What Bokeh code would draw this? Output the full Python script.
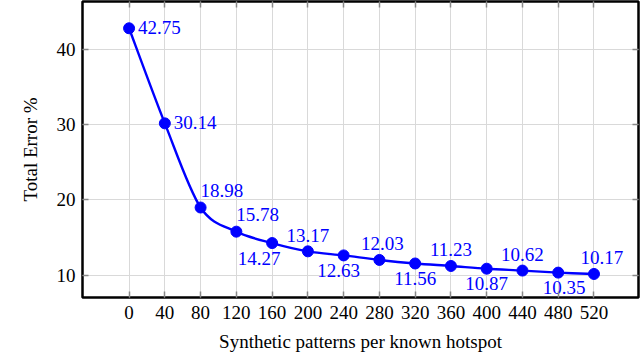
from bokeh.plotting import figure
from bokeh.models import ColumnDataSource, LinearAxis, FixedTicker, CustomJSTickFormatter, Range1d
from bokeh.core.properties import value
from bokeh.embed import file_html
from bokeh.resources import INLINE

# ---- data ----
patterns = [0, 40, 80, 120, 160, 200, 240, 280, 320, 360, 400, 440, 480, 520]
total_error = [42.75, 30.14, 18.98, 15.78, 14.27, 13.17, 12.63, 12.03, 11.56, 11.23, 10.87, 10.62, 10.35, 10.17]
x_ticks = [0, 40, 80, 120, 160, 200, 240, 280, 320, 360, 400, 440, 480, 520]
y_ticks = [10, 20, 30, 40]

# label placement style per point (position only, no data)
label_pos = ["right", "right", "aboveright", "aboveright", "below", "above", "below",
             "above", "below", "above", "below", "above", "below", "above"]
label_dx = [0, 0, 0, 0, -13, 0, -5, 3, 0, 0, 0, 0, 6, 8]

FONT = "Liberation Serif"
BLUE = "#0000ff"

p = figure(width=640, height=354, output_backend="svg", toolbar_location=None,
           x_range=Range1d(-52.1, 569.8), y_range=Range1d(7.05, 46.3),
           min_border_left=82, min_border_right=2, min_border_top=1, min_border_bottom=57)

p.outline_line_color = "black"
p.outline_line_width = 2.5
p.background_fill_color = "white"
p.border_fill_color = "white"

# smooth curve through data points (cubic bezier, Catmull-Rom style tangents)
k = 0.16
n = len(patterns)
x0s, y0s, x1s, y1s, cx0, cy0, cx1, cy1 = [], [], [], [], [], [], [], []
for i in range(n - 1):
    ip = max(i - 1, 0)
    inn = min(i + 2, n - 1)
    x0s.append(patterns[i]); y0s.append(total_error[i])
    x1s.append(patterns[i + 1]); y1s.append(total_error[i + 1])
    cx0.append(patterns[i] + k * (patterns[i + 1] - patterns[ip]))
    cy0.append(total_error[i] + k * (total_error[i + 1] - total_error[ip]))
    cx1.append(patterns[i + 1] - k * (patterns[inn] - patterns[i]))
    cy1.append(total_error[i + 1] - k * (total_error[inn] - total_error[i]))
p.bezier(x0=x0s, y0=y0s, x1=x1s, y1=y1s, cx0=cx0, cy0=cy0, cx1=cx1, cy1=cy1,
         line_color=BLUE, line_width=2.4)

p.scatter(patterns, total_error, size=11, marker="circle", fill_color=BLUE, line_color=BLUE)

# labels
aligns, xo, yo = [], [], []
for pos, dx in zip(label_pos, label_dx):
    if pos == "right":
        aligns.append("left"); xo.append(9 + dx); yo.append(-1)
    elif pos == "aboveright":
        aligns.append("left"); xo.append(0 + dx); yo.append(-17)
    elif pos == "above":
        aligns.append("center"); xo.append(dx); yo.append(-16)
    else:
        aligns.append("center"); xo.append(dx); yo.append(15)
src = ColumnDataSource(dict(x=patterns, y=total_error,
                            t=[f"{v:.2f}" for v in total_error],
                            a=aligns, xo=xo, yo=yo))
p.text(x="x", y="y", text="t", source=src, text_align="a", text_baseline="alphabetic",
       x_offset="xo", y_offset="yo", text_color=BLUE, text_font=value(FONT),
       text_font_size="19px")

# grid
p.xgrid.ticker = FixedTicker(ticks=x_ticks)
p.ygrid.ticker = FixedTicker(ticks=y_ticks)
p.grid.grid_line_color = "#d9d9d9"
p.grid.grid_line_width = 1

def style_axis(ax, ticks):
    ax.ticker = FixedTicker(ticks=ticks)
    ax.axis_line_color = None
    ax.major_tick_in = 6
    ax.major_tick_out = 0
    ax.major_tick_line_color = "#888888"
    ax.major_tick_line_width = 1.5
    ax.minor_tick_line_color = None
    ax.major_label_text_font = FONT
    ax.major_label_text_font_size = "19px"
    ax.major_label_text_color = "black"
    ax.axis_label_text_font = FONT
    ax.axis_label_text_font_size = "19px"
    ax.axis_label_text_font_style = "normal"
    ax.axis_label_text_color = "black"

style_axis(p.xaxis[0], x_ticks)
style_axis(p.yaxis[0], y_ticks)
p.xaxis[0].axis_label = "Synthetic patterns per known hotspot"
p.yaxis[0].axis_label = "Total Error %"
p.xaxis[0].major_label_standoff = 8
p.xaxis[0].axis_label_standoff = 9
p.yaxis[0].major_label_standoff = 7
p.yaxis[0].axis_label_standoff = 13

blank = CustomJSTickFormatter(code="return ''")
top = LinearAxis()
style_axis(top, x_ticks)
top.formatter = blank
top.major_label_standoff = 0
p.add_layout(top, "above")
right = LinearAxis()
style_axis(right, y_ticks)
right.formatter = blank
right.major_label_standoff = 0
p.add_layout(right, "right")

open("out.html", "w").write(file_html(p, INLINE))
